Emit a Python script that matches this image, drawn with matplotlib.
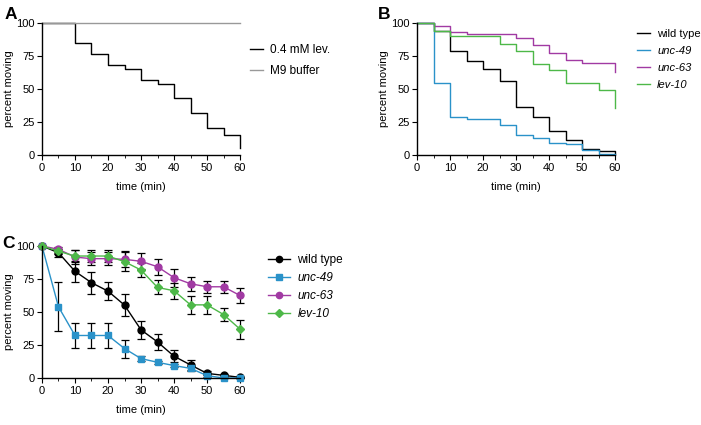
import numpy as np
import matplotlib.pyplot as plt
from matplotlib.ticker import MultipleLocator

plt.rcParams.update({
    'font.family': ['Liberation Sans', 'DejaVu Sans'],
    'font.size': 8,
    'legend.fontsize': 8.5,
    'axes.linewidth': 1.0,
    'xtick.major.size': 3.5,
    'ytick.major.size': 3.5,
    'xtick.minor.size': 2.5,
    'xtick.major.pad': 2.5,
    'ytick.major.pad': 1.5,
})

# Panel A: survival-style step data
t_a = [0, 10, 15, 20, 25, 30, 35, 40, 45, 50, 55, 60]
lev_a = [100, 85, 76.5, 68, 65, 57, 53.7, 43, 31.6, 20.5, 15, 5]
m9_t = [0, 60]
m9_a = [100, 100]

# Panel B: step curves per strain
t_b = [0, 5, 10, 15, 20, 25, 30, 35, 40, 45, 50, 55, 60]
wt_b = [100, 94, 79, 71, 65, 55.7, 36.2, 28.6, 18.2, 11.1, 4.3, 3, 1]
unc49_b = [100, 54.5, 28.6, 27.6, 27.6, 22.5, 15.4, 12.7, 8.9, 8.1, 3.8, 1, 0.5]
unc63_b = [100, 97.7, 93.4, 91.4, 91.4, 91.4, 88.9, 83.3, 77, 71.9, 69.9, 69.9, 62.8]
lev10_b = [100, 94, 90.4, 90.4, 90.4, 84, 79, 68.9, 64.6, 54.4, 54.4, 48.9, 35.4]

# Panel C: mean +/- error
t_c = [0, 5, 10, 15, 20, 25, 30, 35, 40, 45, 50, 55, 60]
wt_c = [100, 94.9, 80.8, 72.2, 65.8, 55.2, 36.5, 27.3, 16.5, 9.9, 3.5, 2, 0.5]
wt_e = [0, 3, 8, 8.3, 7, 8.6, 6.8, 6, 4.7, 3.5, 1.5, 1, 0.5]
unc49_c = [100, 53.9, 32.2, 32.2, 32.2, 22.3, 14.7, 11.9, 9.4, 7.3, 1.8, 0, 0]
unc49_e = [0, 18.5, 9.5, 9.5, 9.5, 6.8, 2, 1, 1, 2, 1, 0, 0]
unc63_c = [100, 97.5, 91.6, 90.4, 90.4, 89.9, 88.4, 84.3, 76, 71.4, 69.1, 69.1, 62.5]
unc63_e = [0, 1.5, 5, 5, 5, 6, 6, 6, 6.8, 5.3, 4.7, 4.7, 5.4]
lev10_c = [100, 96, 92.4, 92.4, 92.4, 88.1, 81.8, 68.6, 66.1, 55.4, 55.4, 48.1, 37]
lev10_e = [0, 2, 4.5, 4.5, 4.5, 7, 5.5, 5.3, 6, 6.7, 6.7, 5, 7.2]

strains = ['wild type', 'unc-49', 'unc-63', 'lev-10']
colors = ['black', '#2a92c9', '#a13aa3', '#4db848']
markers = ['o', 's', 'o', 'D']


def style_axes(ax):
    ax.set_xlim(0, 60)
    ax.set_ylim(0, 100)
    ax.xaxis.set_major_locator(MultipleLocator(10))
    ax.xaxis.set_minor_locator(MultipleLocator(5))
    ax.yaxis.set_major_locator(MultipleLocator(25))
    for s in ['top', 'right']:
        ax.spines[s].set_visible(False)
    ax.set_ylabel('percent moving', labelpad=1.5)
    ax.set_xlabel('time (min)', labelpad=6)


def italic_names(leg):
    for txt in leg.get_texts()[1:]:
        txt.set_style('italic')


fig = plt.figure(figsize=(7.01, 4.25), dpi=100)

# A
axA = fig.add_axes([0.0599, 0.6353, 0.2825, 0.3106])
axA.step(t_a, lev_a, where='post', color='black', lw=1.0, label='0.4 mM lev.', clip_on=False)
axA.plot(m9_t, m9_a, color='#999999', lw=1.0, label='M9 buffer', clip_on=False)
style_axes(axA)
fig.legend(*axA.get_legend_handles_labels(), loc='upper left',
           bbox_to_anchor=(0.3566, 0.8965), frameon=False, borderpad=0, borderaxespad=0,
           handlelength=1.1, handletextpad=0.6, labelspacing=0.75)
fig.text(0.006, 0.967, 'A', fontsize=12.5, fontweight='bold', va='center')

# B
axB = fig.add_axes([0.5949, 0.6353, 0.2825, 0.3106])
for vals, name, c in zip([wt_b, unc49_b, unc63_b, lev10_b], strains, colors):
    axB.step(t_b, vals, where='post', color=c, lw=1.0, label=name, clip_on=False)
style_axes(axB)
legB = fig.legend(*axB.get_legend_handles_labels(), loc='upper left',
                  bbox_to_anchor=(0.908, 0.932), frameon=False, borderpad=0, borderaxespad=0,
                  handlelength=1.25, handletextpad=0.6, labelspacing=0.64, fontsize=8)
italic_names(legB)
fig.text(0.539, 0.967, 'B', fontsize=12.5, fontweight='bold', va='center')

# C
axC = fig.add_axes([0.0599, 0.1106, 0.2825, 0.3106])
handles = []
for vals, errs, name, c, m in zip([wt_c, unc49_c, unc63_c, lev10_c],
                                  [wt_e, unc49_e, unc63_e, lev10_e],
                                  strains, colors, markers):
    eb = axC.errorbar(t_c, vals, yerr=errs, color=c, ecolor='black', elinewidth=0.9,
                      capsize=3, capthick=0.9, lw=1.0, marker=m,
                      markersize=5 if m != 'D' else 4.5, clip_on=False)
    for art in eb.lines[1] + eb.lines[2]:
        art.set_clip_on(False)
    handles.append(eb.lines[0])
style_axes(axC)
legC = fig.legend(handles, strains, loc='upper left',
                  bbox_to_anchor=(0.3823, 0.4024), frameon=False, borderpad=0, borderaxespad=0,
                  handlelength=1.9, handletextpad=0.6, labelspacing=0.5, markerscale=0.9)
italic_names(legC)
fig.text(0.003, 0.428, 'C', fontsize=12.5, fontweight='bold', va='center')

plt.savefig('out.png', dpi=100)
